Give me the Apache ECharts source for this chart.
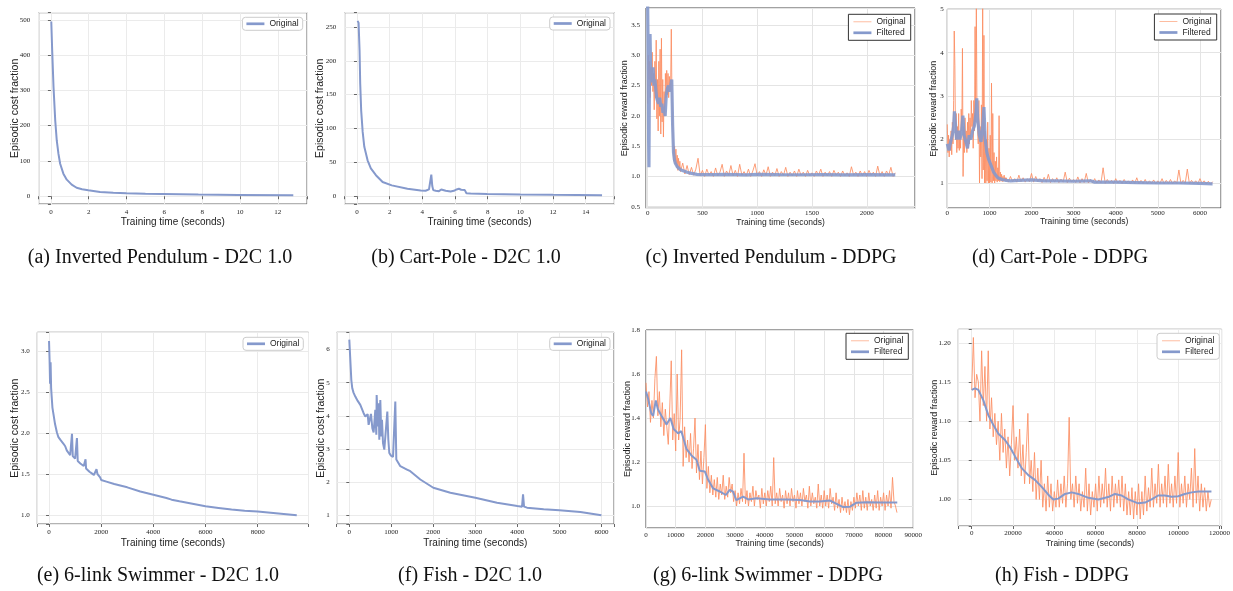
<!DOCTYPE html>
<html>
<head>
<meta charset="utf-8">
<script src="https://cdn.jsdelivr.net/npm/echarts@6/dist/echarts.min.js"></script>
<style>
html, body { margin: 0; padding: 0; background: #fff; }
#chart { width: 1233px; height: 591px; }
</style>
</head>
<body>
<div id="chart"></div>
<script>
// ---------- (a) Inverted Pendulum - D2C 1.0 ----------
const aX = [0.02,0.07,0.14,0.23,0.31,0.4,0.49,0.66,0.84,1.1,1.36,1.65,1.98,2.6,3.3,4.0,5.0,5.9,7.8,9.9,12.82];
const aY = [495,411,308,214,158,120,92,64,47,33,24,20,17,12,10,8.4,7.3,6.5,4.7,3.8,2.8];

// ---------- (b) Cart-Pole - D2C 1.0 ----------
const bX = [0.04,0.1,0.16,0.2,0.26,0.35,0.45,0.65,0.85,1.16,1.57,2.13,3.09,3.9,4.2,4.3,4.41,4.47,4.55,4.61,4.67,4.82,5.02,5.16,5.22,5.28,5.43,5.73,5.93,6.1,6.24,6.38,6.5,6.6,6.7,6.95,7.97,10,12,15];
const bY = [259,256,215,166,126,95,73,53,41,31,21,16,11,8.3,8,9,10,12,32,15,9,8,7.5,10,12,9,8,7,8,10,11,9.5,10.5,9,4.5,4,3.3,2.5,2,1.5];

// ---------- (c) Inverted Pendulum - DDPG ----------
const cOrigEarlyStart = 0, cOrigEarlyStep = 6;
const cOrigEarly = [2.2,3.0,2.6,2.9,2.3,2.8,2.5,3.05,2.4,2.7,2.1,2.9,2.3,3.25,1.95,2.6,1.75,2.9,2.0,3.1,1.7,3.28,1.9,2.6,1.65,2.4,2.0,2.7,2.3,2.75,2.35,2.7,2.3,2.65,2.4,2.55,3.43,2.3,1.9,1.5,1.25,1.5,1.2,1.45,1.15,1.35,1.1,1.3,1.12,1.25];
const cOrigLateStart = 300, cOrigLateStep = 20;
const cOrigLate = [1.08,1.22,1.04,1.18,1.03,1.15,1.02,1.12,1.3,1.01,1.1,1.0,1.12,1.02,1.08,1.0,1.14,1.01,1.07,1.2,1.0,1.09,1.02,1.18,1.01,1.1,1.0,1.2,1.02,1.08,1.01,1.12,1.0,1.09,1.21,1.01,1.08,1.0,1.11,1.02,1.16,1.0,1.07,1.01,1.13,1.0,1.08,1.02,1.15,1.0,1.07,1.01,1.09,1.0,1.12,1.02,1.07,1.0,1.1,1.01,1.06,1.0,1.09,1.02,1.12,1.0,1.07,1.01,1.08,1.0,1.1,1.02,1.07,1.0,1.09,1.01,1.06,1.0,1.16,1.02,1.07,1.0,1.09,1.01,1.08,1.0,1.1,1.02,1.07,1.0,1.17,1.01,1.08,1.0,1.09,1.02,1.15,1.0,1.06];
const cFiltX = [0,3,6,9,12,15,18,22,26,30,36,42,50,58,66,74,82,90,100,110,120,130,140,150,160,170,180,190,200,210,220,228,236,244,252,260,270,280,300,330,360,400,450,500,600,700,800,900,1000,1200,1400,1600,1800,2000,2260];
const cFiltY = [3.9,3.3,2.6,1.6,1.15,2.2,3.0,3.35,2.9,2.6,2.75,2.55,2.8,2.5,2.6,2.45,2.3,2.25,2.2,2.3,2.15,2.2,2.05,2.1,2.0,2.35,2.45,2.5,2.4,2.5,2.6,1.85,1.4,1.28,1.22,1.19,1.16,1.14,1.11,1.09,1.07,1.05,1.035,1.03,1.03,1.035,1.03,1.025,1.035,1.03,1.028,1.03,1.026,1.03,1.025];

// ---------- (d) Cart-Pole - DDPG ----------
const dOrigEarlyStart = 0, dOrigEarlyStep = 15;
const dOrigEarly = [2.35,1.7,2.1,1.6,2.0,1.75,2.2,1.65,2.4,1.9,2.9,4.5,3.7,2.0,2.6,1.7,2.3,1.8,2.6,1.75,2.2,1.8,2.7,2.2,4.1,1.15,2.3,1.7,2.5,1.9,2.2,1.7,2.4,1.8,2.6,1.9,2.5,2.0,2.9,2.3,2.6,1.8,2.9,2.2,4.6,2.4,5.2,2.6,2.2,1.9,2.9,1.0,2.3,1.6,2.8,1.1,5.2,1.3,4.4,1.0,2.2,1.0,2.0,1.05,2.4,1.0,1.8,1.0,2.1,1.02,3.3,1.0,2.6,1.05,1.7,1.0,1.5,1.05,1.6,1.02,1.35,1.05,2.55,1.03,1.25,1.05,1.2,1.03,1.15,1.04,1.18,1.05,1.12,1.04];
const dOrigLateStart = 1400, dOrigLateStep = 50;
const dOrigLate = [1.12,1.02,1.15,1.03,1.1,1.02,1.18,1.03,1.12,1.02,1.1,1.03,1.22,1.02,1.15,1.03,1.1,1.01,1.13,1.02,1.2,1.01,1.1,1.02,1.12,1.01,1.09,1.02,1.25,1.01,1.11,1.02,1.08,1.01,1.14,1.0,1.1,1.01,1.22,1.0,1.08,1.01,1.1,1.0,1.07,1.0,1.35,0.99,1.08,1.0,1.06,0.99,1.1,1.0,1.06,0.99,1.08,1.0,1.05,0.98,1.07,0.99,1.12,0.98,1.06,0.99,1.08,0.98,1.05,0.99,1.07,0.98,1.05,0.99,1.1,0.98,1.06,0.99,1.08,0.98,1.05,0.99,1.3,0.98,1.06,0.99,1.32,0.98,1.06,0.99,1.05,0.98,1.1,0.99,1.05,0.98,1.04,0.97,1.03];
const dFiltX = [0,40,80,120,150,170,190,220,260,300,340,370,400,440,480,520,560,600,640,680,700,720,760,800,840,870,900,940,980,1020,1060,1100,1150,1200,1300,1400,1500,1700,2000,2300,2600,3000,3400,3500,3600,4000,4500,5000,5500,6000,6300];
const dFiltY = [1.9,1.75,1.95,2.1,2.3,2.65,2.4,2.0,2.2,2.0,2.2,2.55,2.1,1.95,1.8,2.1,2.0,2.2,2.3,2.6,2.95,2.5,2.1,1.95,2.3,2.75,2.0,1.7,1.55,1.45,1.35,1.25,1.18,1.12,1.08,1.06,1.05,1.06,1.07,1.05,1.05,1.04,1.05,1.02,1.02,1.02,1.01,1.0,1.0,0.99,0.98];

// ---------- (e) 6-link Swimmer - D2C 1.0 ----------
const eX = [0,20,40,60,80,100,130,170,230,300,360,430,500,555,620,680,740,810,850,880,910,950,1000,1040,1070,1100,1135,1200,1265,1330,1390,1400,1420,1460,1550,1640,1720,1780,1820,1860,1910,1960,2000,2200,2500,3000,3500,4000,4500,4700,5000,5500,6000,6500,7000,7500,8000,8500,9000,9500];
const eY = [3.12,2.9,2.6,2.86,2.55,2.45,2.31,2.23,2.11,2.01,1.95,1.92,1.9,1.87,1.84,1.79,1.77,1.73,1.75,1.99,1.72,1.71,1.69,1.67,1.94,1.66,1.65,1.63,1.61,1.6,1.58,1.68,1.57,1.55,1.53,1.51,1.49,1.48,1.56,1.5,1.49,1.46,1.43,1.41,1.38,1.34,1.29,1.25,1.21,1.19,1.17,1.14,1.11,1.09,1.07,1.055,1.045,1.03,1.015,1.0];

// ---------- (f) Fish - D2C 1.0 ----------
const fX = [0,24,48,71,100,143,200,262,341,381,437,460,516,548,579,619,643,651,683,698,714,738,762,778,802,833,857,905,929,952,992,1040,1071,1095,1119,1214,1373,1452,1690,2000,2405,3000,3516,4000,4111,4135,4159,4230,4627,5000,5500,6000];
const fY = [6.3,6.28,5.08,4.83,4.7,4.58,4.45,4.33,4.08,3.98,4.05,3.73,4.06,3.63,3.5,4.18,3.43,4.63,3.68,4.38,3.28,4.48,3.38,3.88,3.18,2.98,2.93,4.13,3.28,2.88,2.8,2.76,2.8,4.43,2.68,2.48,2.38,2.33,2.08,1.83,1.68,1.53,1.38,1.28,1.26,1.63,1.26,1.23,1.18,1.15,1.1,1.0];

// ---------- (g) 6-link Swimmer - DDPG ----------
const gOrigStart = 0, gOrigStep = 500;
const gOrig = [1.56,1.45,1.52,1.38,1.48,1.4,1.58,1.68,1.41,1.52,1.36,1.47,1.32,1.44,1.36,1.28,1.45,1.66,1.3,1.42,1.25,1.6,1.3,1.4,1.71,1.18,1.36,1.22,1.3,1.2,1.33,1.17,1.26,1.4,1.15,1.28,1.12,1.25,1.1,1.22,1.37,1.08,1.18,1.06,1.14,1.05,1.12,1.04,1.13,1.03,1.1,1.05,1.14,1.03,1.09,1.04,1.13,1.06,1.1,1.02,1.07,1.0,1.06,1.01,1.08,1.02,1.24,1.01,1.07,1.0,1.06,1.02,1.09,1.0,1.07,1.03,1.05,0.99,1.08,1.01,1.06,1.0,1.07,1.02,1.09,1.0,1.22,1.01,1.06,1.0,1.08,1.02,1.05,0.99,1.07,1.01,1.06,1.0,1.08,1.02,1.05,0.99,1.07,1.01,1.06,1.0,1.08,1.02,1.05,0.99,1.09,1.0,1.06,1.01,1.04,0.99,1.1,1.0,1.05,0.99,1.07,1.0,1.05,0.99,1.08,1.01,1.04,0.98,1.06,0.99,1.03,0.97,1.04,0.98,1.02,0.97,1.03,0.96,1.02,0.98,1.04,0.99,1.06,1.0,1.05,0.98,1.07,0.99,1.04,0.98,1.06,1.0,1.03,0.98,1.05,0.99,1.07,0.98,1.04,1.0,1.06,0.98,1.05,1.0,1.07,0.99,1.13,1.02,1.0,0.97];
const gFiltX = [0,670,1800,2400,3300,4000,5200,6900,8200,9300,10800,11900,13600,15300,17000,18100,19800,20900,22600,24800,26900,28200,29300,30400,32700,34400,37200,41700,47300,51800,55200,58500,61900,64200,66400,68700,70900,74300,78800,84600];
const gFiltY = [1.52,1.49,1.42,1.41,1.48,1.44,1.41,1.37,1.40,1.35,1.33,1.34,1.26,1.23,1.21,1.16,1.157,1.12,1.08,1.066,1.05,1.073,1.065,1.027,1.043,1.03,1.035,1.03,1.03,1.027,1.02,1.02,1.025,1.01,0.995,0.997,1.015,1.017,1.016,1.016];

// ---------- (h) Fish - DDPG ----------
const hOrigStart = 0, hOrigStep = 800;
const hOrig = [1.14,1.207,1.13,1.16,1.15,1.1,1.19,1.12,1.17,1.1,1.19,1.09,1.13,1.08,1.11,1.07,1.1,1.05,1.11,1.06,1.09,1.04,1.08,1.03,1.07,1.12,1.05,1.08,1.04,1.09,1.03,1.07,1.02,1.06,1.11,1.02,1.05,1.01,1.06,1.0,1.04,1.0,1.05,0.99,1.02,0.985,1.03,0.99,1.02,0.985,1.01,0.99,1.025,0.99,1.02,0.995,1.03,0.99,1.02,1.105,1.0,1.02,0.99,1.03,0.995,1.02,0.985,1.01,0.99,1.04,0.985,1.02,0.98,1.01,0.99,1.02,0.985,1.03,0.99,1.02,0.995,1.04,0.99,1.02,0.985,1.03,0.99,1.02,0.995,1.025,0.99,1.03,0.985,1.02,0.98,1.01,0.98,1.015,0.975,1.01,0.98,1.02,0.975,1.01,0.98,1.03,0.985,1.015,0.99,1.04,0.99,1.02,0.995,1.045,0.99,1.02,0.995,1.03,0.99,1.045,0.995,1.02,0.99,1.03,0.995,1.06,0.99,1.02,0.995,1.03,0.99,1.02,1.0,1.04,0.99,1.065,0.995,1.03,0.985,1.02,0.99,1.015,0.985,1.01,0.99,1.0];
const hFiltX = [0,1600,3200,5600,8000,10500,12900,16100,18500,21000,24200,27400,30600,33900,37100,39500,41900,45200,48400,51600,56500,61300,66100,69400,72600,75800,80600,83900,87100,90300,93500,96800,100000,103200,106500,109700,112900,116100];
const hFiltY = [1.14,1.142,1.14,1.127,1.108,1.095,1.084,1.076,1.067,1.055,1.04,1.031,1.025,1.016,1.006,1.0,1.001,1.007,1.009,1.007,1.002,1.0,1.003,1.007,1.005,1.0,0.995,0.996,1.0,1.005,1.005,1.0035,1.004,1.007,1.009,1.01,1.01,1.01];

// ---------- text ----------
const captions = [
  '(a) Inverted Pendulum - D2C 1.0', '(b) Cart-Pole - D2C 1.0',
  '(c) Inverted Pendulum - DDPG', '(d) Cart-Pole - DDPG',
  '(e) 6-link Swimmer - D2C 1.0', '(f) Fish - D2C 1.0',
  '(g) 6-link Swimmer - DDPG', '(h) Fish - DDPG'
];
const xName = 'Training time (seconds)';
const costName = 'Episodic cost fraction';
const rewardName = 'Episodic reward fraction';

// ---------- helpers ----------
const pairs = (xs, ys) => xs.map((x, i) => [x, ys[i]]);
const stepped = (start, step, ys) => ys.map((y, i) => [start + i * step, y]);

const BLUE = '#8599cc';
const ORANGE = '#fc8d62';
const SANS = 'Liberation Sans';
const SERIF = 'Liberation Serif';
const TICK_SIZE = 7;

function tickFmt(step, dec) {
  return function (v) {
    const k = v / step;
    if (Math.abs(k - Math.round(k)) > 1e-6) return '';
    return (Math.round(k) * step).toFixed(dec);
  };
}

// layout of the eight panels (pixel boxes) and their axis ranges
const panels = [
  { box: [38.7, 12.7, 268.3, 191.3], xr: [-0.645, 13.545], xs: 2, xd: 0, yr: [-22, 520], ys: 100, yd: 0,
    yName: costName, yGap: 18, yNameSize: 10.5, xGap: 13, xNameSize: 10, tex: true, ylm: 8.5, xlm: 4.5,
    legend: { right: 930.3, top: 17.3 } },
  { box: [344.7, 12.7, 269.6, 191.3], xr: [-0.75, 15.75], xs: 2, xd: 0, yr: [-11.5, 271], ys: 50, yd: 0,
    yName: costName, yGap: 19, yNameSize: 10.5, xGap: 13, xNameSize: 10, tex: true, ylm: 8.5, xlm: 4.5,
    legend: { right: 623, top: 17 } },
  { box: [646, 8, 269, 200.3], xr: [-15, 2440], xs: 500, xd: 0, yr: [0.474, 3.78], ys: 0.5, yd: 1,
    yName: rewardName, yGap: 17, yNameSize: 9, xGap: 9.5, xNameSize: 8.5, tex: false, ylm: 6, xlm: 1.5,
    legend: { right: 322.3, top: 14.3 } },
  { box: [947.3, 9.3, 273.7, 198.7], xr: [0, 6500], xs: 1000, xd: 0, yr: [0.424, 5.0], ys: 1, yd: 0,
    yName: rewardName, yGap: 9.5, yNameSize: 9, xGap: 9.5, xNameSize: 8.5, tex: false, ylm: 3.5, xlm: 1.5,
    legend: { right: 16.3, top: 14 } },
  { box: [37.3, 332.3, 271.2, 191.7], xr: [-450, 9950], xs: 2000, xd: 0, yr: [0.894, 3.226], ys: 0.5, yd: 1,
    yName: costName, yGap: 17, yNameSize: 10.5, xGap: 14, xNameSize: 10, tex: true, ylm: 7.5, xlm: 4.5,
    legend: { right: 929.7, top: 337.3 } },
  { box: [336.7, 332.3, 277.3, 191.7], xr: [-300, 6300], xs: 1000, xd: 0, yr: [0.737, 6.52], ys: 1, yd: 0,
    yName: costName, yGap: 10, yNameSize: 10.5, xGap: 14, xNameSize: 10, tex: true, ylm: 7, xlm: 4.5,
    legend: { right: 623, top: 337.3 } },
  { box: [646, 330, 267.3, 198], xr: [0, 90000], xs: 10000, xd: 0, yr: [0.9, 1.8], ys: 0.2, yd: 1,
    yName: rewardName, yGap: 14, yNameSize: 9, xGap: 11.5, xNameSize: 8.5, tex: false, ylm: 6, xlm: 3.5,
    legend: { right: 324.7, top: 333.3 } },
  { box: [958.3, 329.3, 263.4, 196.7], xr: [-6500, 121000], xs: 20000, xd: 0, yr: [0.966, 1.2175], ys: 0.05, yd: 2,
    yName: rewardName, yGap: 19.5, yNameSize: 9, xGap: 13, xNameSize: 8.5, tex: true, ylm: 7.5, xlm: 4,
    legend: { right: 13.7, top: 333.3 } }
];

const grid = [], xAxis = [], yAxis = [], series = [], legend = [];

panels.forEach((p, i) => {
  const [l, t, w, h] = p.box;
  grid.push({ left: l, top: t, width: w, height: h, show: true,
    borderColor: p.tex ? '#666' : '#444', borderWidth: 1, backgroundColor: '#fff', containLabel: false });
  const gridCol = p.tex ? '#ebebeb' : '#e4e4e4';
  const common = {
    type: 'value', gridIndex: i, scale: true,
    axisLine: { show: false },
    axisTick: { show: p.tex, length: 3, lineStyle: { color: '#666' } },
    splitLine: { show: true, lineStyle: { color: gridCol, width: 1 } },
    nameLocation: 'middle', nameMoveOverlap: false
  };
  xAxis.push(Object.assign({}, common, {
    min: p.xr[0], max: p.xr[1], minInterval: p.xs, maxInterval: p.xs,
    splitNumber: Math.round((p.xr[1] - p.xr[0]) / p.xs),
    axisLabel: { formatter: tickFmt(p.xs, p.xd), fontFamily: SERIF, fontSize: TICK_SIZE, color: '#222', margin: p.xlm,
      showMinLabel: true, showMaxLabel: true, hideOverlap: false },
    name: xName, nameGap: p.xGap,
    nameTextStyle: { fontFamily: SANS, fontSize: p.xNameSize, color: '#222' }
  }));
  yAxis.push(Object.assign({}, common, {
    min: p.yr[0], max: p.yr[1], minInterval: p.ys, maxInterval: p.ys,
    splitNumber: Math.round((p.yr[1] - p.yr[0]) / p.ys),
    axisLabel: { formatter: tickFmt(p.ys, p.yd), fontFamily: SERIF, fontSize: TICK_SIZE, color: '#222', margin: p.ylm,
      showMinLabel: true, showMaxLabel: true, hideOverlap: false },
    name: p.yName, nameGap: p.yGap, nameRotate: 90,
    nameTextStyle: { fontFamily: SANS, fontSize: p.yNameSize, color: '#222' }
  }));
});

function line(i, name, data, color, width, opacity, z) {
  series.push({
    type: 'line', name: name, xAxisIndex: i, yAxisIndex: i, data: data,
    showSymbol: false, symbol: 'none', smooth: false, sampling: null, clip: true,
    lineStyle: { color: color, width: width, opacity: opacity }, itemStyle: { color: color },
    z: z, silent: true
  });
}

// single-curve panels
line(0, 'Original', pairs(aX, aY), BLUE, 2, 1, 3);
line(1, 'Original', pairs(bX, bY), BLUE, 2, 1, 3);
line(4, 'Original', pairs(eX, eY), BLUE, 2, 1, 3);
line(5, 'Original', pairs(fX, fY), BLUE, 2, 1, 3);

// raw + filtered panels
line(2, 'Original', stepped(cOrigEarlyStart, cOrigEarlyStep, cOrigEarly).concat(stepped(cOrigLateStart, cOrigLateStep, cOrigLate)), ORANGE, 1, 0.85, 2);
line(2, 'Filtered', pairs(cFiltX, cFiltY), BLUE, 3.2, 0.9, 3);
line(3, 'Original', stepped(dOrigEarlyStart, dOrigEarlyStep, dOrigEarly).concat(stepped(dOrigLateStart, dOrigLateStep, dOrigLate)), ORANGE, 1, 0.85, 2);
line(3, 'Filtered', pairs(dFiltX, dFiltY), BLUE, 3.2, 0.9, 3);
line(6, 'Original', stepped(gOrigStart, gOrigStep, gOrig), ORANGE, 1, 0.85, 2);
line(6, 'Filtered', pairs(gFiltX, gFiltY), BLUE, 2, 1, 3);
line(7, 'Original', stepped(hOrigStart, hOrigStep, hOrig), ORANGE, 1, 0.85, 2);
line(7, 'Filtered', pairs(hFiltX, hFiltY), BLUE, 2, 1, 3);

const THIN = 'path://M0,0H20V1H0Z';
const THICK = 'path://M0,0H20V3H0Z';
panels.forEach((p, i) => {
  const twoItems = (i === 2 || i === 3 || i === 6 || i === 7);
  const data = twoItems
    ? [{ name: 'Original', icon: THIN, itemStyle: { color: '#fdb596' } },
       { name: 'Filtered', icon: THICK, itemStyle: { color: BLUE } }]
    : [{ name: 'Original', icon: THICK, itemStyle: { color: BLUE } }];
  legend.push({
    right: p.legend.right, top: p.legend.top, orient: 'vertical',
    data: data, selectedMode: false, itemWidth: 18, itemHeight: 8, itemGap: 2,
    symbolKeepAspect: true,
    padding: twoItems ? [3, 5, 3, 5] : [2, 4, 2, 4],
    backgroundColor: '#fff',
    borderColor: p.tex ? '#cccccc' : '#333', borderWidth: 1, borderRadius: p.tex ? 3 : 0,
    textStyle: { fontFamily: SANS, fontSize: 8.5, color: '#222' }
  });
});

// subfigure captions
const capPos = [[160, 258], [466, 258], [771, 258], [1060, 258], [158, 576], [470, 576], [768, 576], [1062, 576]];
const graphic = captions.map((c, i) => ({
  type: 'text', x: capPos[i][0], y: capPos[i][1], silent: true,
  style: { text: c, font: '20px "Liberation Serif"', fill: '#111', textAlign: 'center', textVerticalAlign: 'middle' }
}));

const chart = echarts.init(document.getElementById('chart'), null, { renderer: 'canvas' });
chart.setOption({
  animation: false,
  backgroundColor: '#fff',
  grid: grid, xAxis: xAxis, yAxis: yAxis, series: series, legend: legend, graphic: graphic
});
</script>
</body>
</html>
